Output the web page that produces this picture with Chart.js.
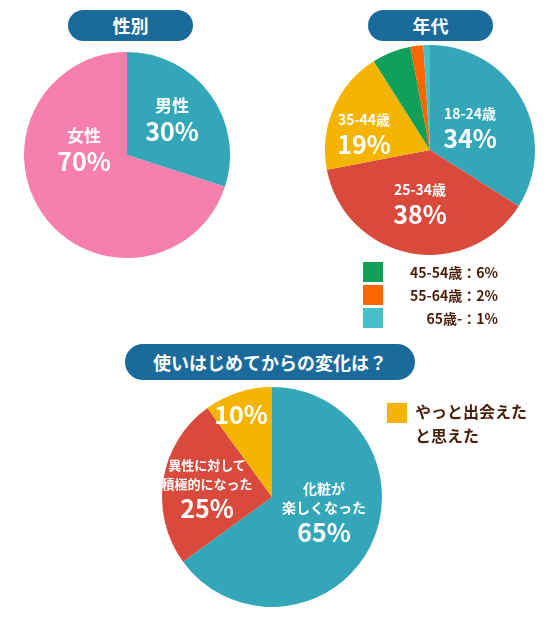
<!DOCTYPE html>
<html><head><meta charset="utf-8">
<script src="https://cdn.jsdelivr.net/npm/chart.js@4"></script>
<style>
body{margin:0;width:560px;height:620px;background:#fff;position:relative;font-family:"Noto Sans CJK JP",sans-serif;overflow:hidden}
.box{position:absolute}
.pill{position:absolute;background:#1b6a9c;color:#fff;font-weight:bold;font-size:18px;border-radius:18px;text-align:center}
.lb{position:absolute;color:#fff;font-weight:bold;transform:translate(-50%,-50%);white-space:nowrap;text-align:center;line-height:1.2}
.s{font-size:14px}.b{font-size:25px}
.lg{position:absolute;color:#4a1e0a;font-weight:bold;font-size:14px}
.sq{position:absolute;width:20px;height:20px}
</style></head><body>
<div class="pill" style="left:68px;top:10px;width:125px;height:31px;line-height:31px">性別</div>
<div class="pill" style="left:368px;top:10px;width:125px;height:31px;line-height:31px">年代</div>
<div class="pill" style="left:125px;top:344px;width:290px;height:36px;line-height:36px">使いはじめてからの変化は？</div>
<div class="box" style="left:24px;top:52px;width:206px;height:206px"><canvas id="c1"></canvas></div>
<div class="box" style="left:325px;top:45px;width:210px;height:210px"><canvas id="c2"></canvas></div>
<div class="box" style="left:162px;top:387px;width:220px;height:220px"><canvas id="c3"></canvas></div>
<div id="ov"></div>
<script>
// ── Data ──────────────────────────────────────
const genderLabels = ['男性', '女性'];
const genderValues = [30, 70];
const genderColors = ['#33a6b8', '#f67fac'];

const ageLabels = ['18-24歳', '25-34歳', '35-44歳', '45-54歳', '55-64歳', '65歳-'];
const ageValues = [34, 38, 19, 6, 2, 1];
const ageColors = ['#33a6b8', '#d94a3c', '#f4b400', '#10a05a', '#ff6600', '#46bfc8'];

const changeLabels = ['化粧が楽しくなった', '異性に対して積極的になった', 'やっと出会えたと思えた'];
const changeValues = [65, 25, 10];
const changeColors = ['#33a6b8', '#d94a3c', '#f4b400'];

function pie(id, labels, data, colors) {
  new Chart(document.getElementById(id), {
    type: 'pie',
    data: { labels, datasets: [{ data, backgroundColor: colors, borderWidth: 0 }] },
    options: {
      responsive: true, maintainAspectRatio: true, animation: false,
      layout: { padding: 0 },
      plugins: { legend: { display: false }, tooltip: { enabled: false } },
    },
  });
}
pie('c1', genderLabels, genderValues, genderColors);
pie('c2', ageLabels, ageValues, ageColors);
pie('c3', changeLabels, changeValues, changeColors);

// ── Slice labels ──────────────────────────────
const ov = document.getElementById('ov');
function lab(x, y, html) {
  const d = document.createElement('div');
  d.className = 'lb'; d.style.left = x + 'px'; d.style.top = y + 'px';
  d.innerHTML = html; ov.appendChild(d);
}
const pc = v => `<span class="b">${v}%</span>`;
lab(172, 120, `<span class="s" style="font-size:17px">${genderLabels[0]}</span><br>${pc(genderValues[0])}`);
lab(84, 150, `<span class="s" style="font-size:17px">${genderLabels[1]}</span><br>${pc(genderValues[1])}`);
lab(470, 128, `<span class="s">${ageLabels[0]}</span><br>${pc(ageValues[0])}`);
lab(420, 204, `<span class="s">${ageLabels[1]}</span><br>${pc(ageValues[1])}`);
lab(364, 134, `<span class="s">${ageLabels[2]}</span><br>${pc(ageValues[2])}`);
lab(324, 512, `<span class="s">化粧が<br>楽しくなった</span><br>${pc(changeValues[0])}`);
lab(207, 488, `<span class="s" style="font-size:13px">異性に対して<br>積極的になった</span><br>${pc(changeValues[1])}`);
lab(241, 413, pc(changeValues[2]));

// ── Legends ───────────────────────────────────
[3, 4, 5].forEach((i, k) => {
  const y = 262 + k * 23;
  ov.insertAdjacentHTML('beforeend',
    `<div class="sq" style="left:363px;top:${y}px;background:${ageColors[i]}"></div>` +
    `<div class="lg" style="left:390px;top:${y}px;width:108px;text-align:right">${ageLabels[i]}：${ageValues[i]}%</div>`);
});
ov.insertAdjacentHTML('beforeend',
  `<div class="sq" style="left:387px;top:403px;background:${changeColors[2]}"></div>` +
  `<div class="lg" style="left:415px;top:399px;font-size:16px;line-height:24px">やっと出会えた<br>と思えた</div>`);
</script>
</body></html>
